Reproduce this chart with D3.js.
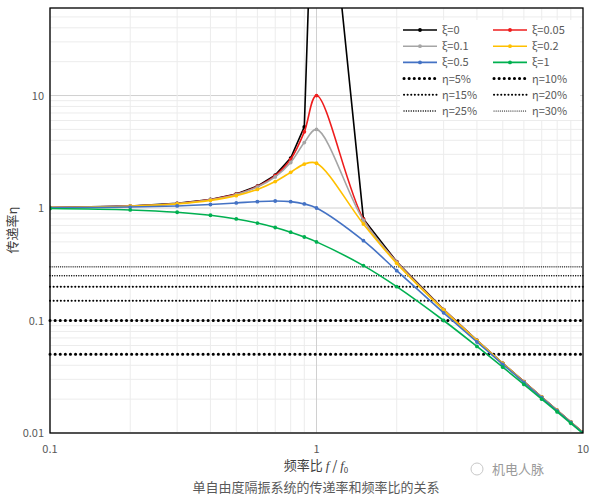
<!DOCTYPE html>
<html><head><meta charset="utf-8">
<script src="https://cdn.jsdelivr.net/npm/d3@7"></script>
<style>body{margin:0;background:#fff}svg{font-family:"Noto Sans CJK SC","Liberation Sans",sans-serif}</style>
</head><body><svg id="c" width="591" height="500"></svg>
<script>
const ratios=[0.1,0.2,0.3,0.4,0.5,0.6,0.7,0.8,0.9,1,1.5,2,3,4,5,6,7,8,9,10];
const xi0=[1.0101,1.0417,1.0989,1.1905,1.3333,1.5625,1.9608,2.7778,5.263,10000,0.8,0.3333,0.125,0.0667,0.04167,0.02857,0.02083,0.01587,0.0125,0.0101];
const xi005=[1.0101,1.0415,1.0983,1.1891,1.3304,1.5557,1.9426,2.7116,4.7565,10,0.7943,0.3326,0.1249,0.06664,0.04166,0.02857,0.02083,0.01587,0.0125,0.0101];
const xi01=[1.0099,1.0408,1.0965,1.1851,1.3216,1.5357,1.8908,2.5383,3.8208,5,0.7779,0.3304,0.1247,0.06657,0.04163,0.02855,0.02082,0.01587,0.0125,0.0101];
const xi02=[1.0093,1.0381,1.0895,1.1695,1.2883,1.4630,1.7188,2.0761,2.4566,2.5,0.7212,0.3221,0.1236,0.06629,0.04152,0.0285,0.02079,0.01585,0.01249,0.01009];
const xi05=[1.005,1.0198,1.0437,1.0748,1.1094,1.1399,1.1546,1.1399,1.0871,1,0.5121,0.2774,0.1170,0.06442,0.04079,0.02816,0.02062,0.01575,0.01242,0.01005];
const xi1=[0.9901,0.9615,0.9174,0.8621,0.8,0.7353,0.6711,0.6098,0.5525,0.5,0.3077,0.2,0.1,0.0588,0.03846,0.02703,0.02,0.01538,0.0122,0.0099];
const etaLevels=[0.05,0.1,0.15,0.2,0.25,0.3];
const etaNames=["η=5%","η=10%","η=15%","η=20%","η=25%","η=30%"];
const xTicks=[0.1,1,10], yTicks=[0.01,0.1,1,10];
const seriesNames=["ξ=0","ξ=0.05","ξ=0.1","ξ=0.2","ξ=0.5","ξ=1"];
const seriesVals=[xi0,xi005,xi01,xi02,xi05,xi1];
const colors=["#000000","#ee1c1c","#a5a5a5","#ffc000","#4472c4","#00b050"];

const L=50,R=583,T=8,B=433;
const svg=d3.select("#c");
const x=d3.scaleLog().domain([0.1,10]).range([L,R]);
const y=d3.scaleLog().domain([0.01,60]).range([B,T]);
svg.append("defs").append("clipPath").attr("id","cp").append("rect").attr("x",L).attr("y",T).attr("width",R-L).attr("height",B-T);
// grid
const minors=[];for(let d=0.01;d<50;d*=10)for(let k=1;k<10;k++){const v=d*k;if(v<=60)minors.push(v);}
const xmin=[];for(let d=0.1;d<10;d*=10)for(let k=1;k<10;k++)xmin.push(d*k);
const g=svg.append("g");
g.selectAll(".gy").data(minors).join("line").attr("x1",L).attr("x2",R).attr("y1",d=>y(d)).attr("y2",d=>y(d)).attr("stroke",d=>yTicks.some(t=>Math.abs(t-d)<1e-9)?"#d0d0d0":"#ececec");
g.selectAll(".gx").data(xmin).join("line").attr("y1",T).attr("y2",B).attr("x1",d=>x(d)).attr("x2",d=>x(d)).attr("stroke",d=>xTicks.some(t=>Math.abs(t-d)<1e-9)?"#d0d0d0":"#ececec");
// eta lines
const etaW=[3,3,2,2,1.3,1.1], etaDash=["0.1 5","0.1 5","0.1 3.5","0.1 3.5","0.1 2.3","0.1 2"];
etaLevels.forEach((v,i)=>svg.append("line").attr("x1",L).attr("x2",R).attr("y1",y(v)).attr("y2",y(v)).attr("stroke","#000").attr("stroke-width",etaW[i]).attr("stroke-linecap","round").attr("stroke-dasharray",etaDash[i]));
// series
const pc=svg.append("g").attr("clip-path","url(#cp)");
seriesVals.forEach((vals,i)=>{
  const pts=ratios.map((r,j)=>[r,vals[j]]);
  const line=d3.line().x(d=>x(d[0])).y(d=>y(d[1])).curve(i==0?d3.curveLinear:d3.curveCatmullRom.alpha(0.5));
  pc.append("path").attr("d",line(pts)).attr("fill","none").attr("stroke",colors[i]).attr("stroke-width",1.6);
  pc.selectAll(null).data(pts.filter(d=>d[1]<60)).join("circle").attr("cx",d=>x(d[0])).attr("cy",d=>y(d[1])).attr("r",1.9).attr("fill",colors[i]);
});
// frame
svg.append("rect").attr("x",L).attr("y",T).attr("width",R-L).attr("height",B-T).attr("fill","none").attr("stroke","#000").attr("stroke-width",1.3);
// ticks
const fmt=d=>d>=1?String(d):String(+d.toPrecision(1));
svg.selectAll(".yl").data(yTicks).join("text").attr("x",L-6).attr("y",d=>y(d)+4).attr("text-anchor","end").attr("font-size",11).attr("fill","#595959").text(fmt);
svg.selectAll(".xl").data(xTicks).join("text").attr("x",d=>x(d)).attr("y",453).attr("text-anchor","middle").attr("font-size",11).attr("fill","#595959").text(fmt);
// legend
const lg=svg.append("g");
lg.append("rect").attr("x",400).attr("y",20).attr("width",180).attr("height",100).attr("fill","#fff");
const allNames=seriesNames.concat(etaNames);
allNames.forEach((n,k)=>{
  const col=k%2,row=Math.floor(k/2);
  const lx=col?493:403,ly=30+row*16.2;
  if(k<6){
    lg.append("line").attr("x1",lx).attr("x2",lx+34).attr("y1",ly).attr("y2",ly).attr("stroke",colors[k]).attr("stroke-width",1.6);
    lg.append("circle").attr("cx",lx+17).attr("cy",ly).attr("r",1.9).attr("fill",colors[k]);
  } else {
    const e=k-6;
    lg.append("line").attr("x1",lx+1).attr("x2",lx+34).attr("y1",ly).attr("y2",ly).attr("stroke","#000").attr("stroke-width",etaW[e]).attr("stroke-linecap","round").attr("stroke-dasharray",etaDash[e]);
  }
  lg.append("text").attr("x",lx+39).attr("y",ly+4).attr("font-size",11).attr("fill","#595959").text(n);
});
// axis titles
svg.append("text").attr("transform","translate(17,230) rotate(-90)").attr("text-anchor","middle").attr("font-size",13).attr("fill","#404040").text("传递率η");
const xt=svg.append("text").attr("x",316).attr("y",470).attr("text-anchor","middle").attr("font-size",13).attr("fill","#404040");
xt.append("tspan").text("频率比 ");
xt.append("tspan").attr("font-style","italic").attr("font-family","Liberation Serif").text("f");
xt.append("tspan").text(" / ");
xt.append("tspan").attr("font-style","italic").attr("font-family","Liberation Serif").text("f");
xt.append("tspan").attr("font-size",8).attr("dy",3).text("0");
svg.append("text").attr("x",316).attr("y",492).attr("text-anchor","middle").attr("font-size",13).attr("fill","#595959").text("单自由度隔振系统的传递率和频率比的关系");
svg.append("text").attr("x",518).attr("y",474).attr("text-anchor","middle").attr("font-size",13).attr("fill","#9a9a9a").text("机电人脉");
svg.append("circle").attr("cx",477).attr("cy",469).attr("r",6).attr("fill","none").attr("stroke","#c8c8c8");
</script></body></html>
